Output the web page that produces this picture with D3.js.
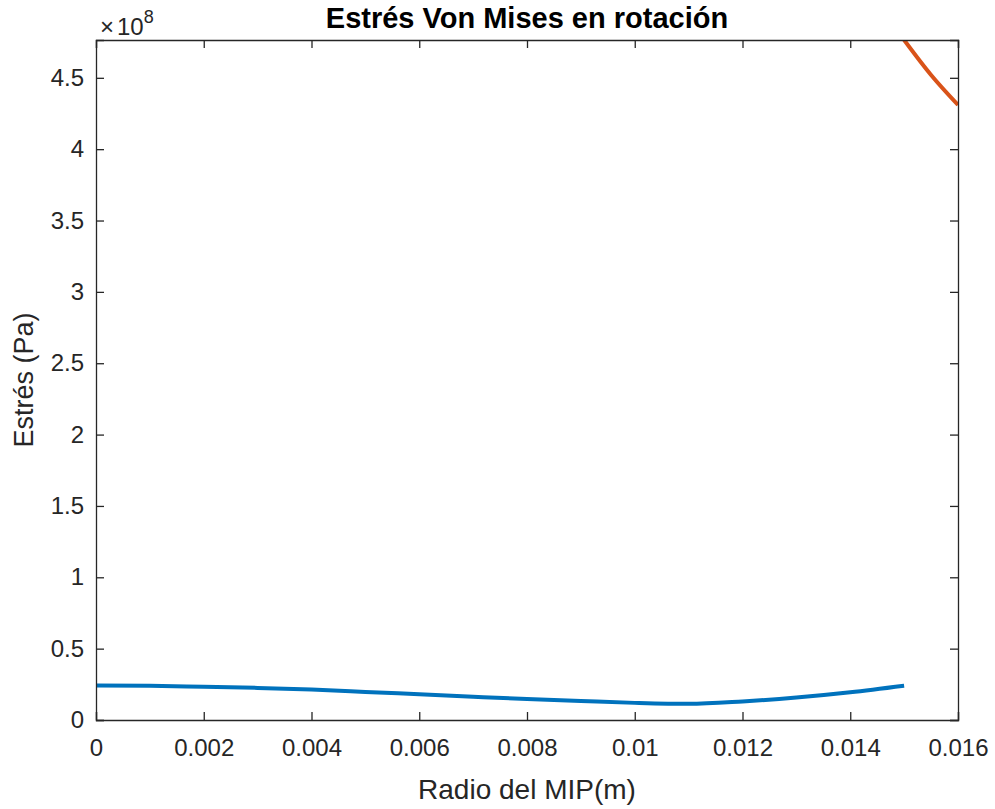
<!DOCTYPE html>
<html>
<head>
<meta charset="utf-8">
<script src="https://cdn.jsdelivr.net/npm/d3@7.9.0/dist/d3.min.js"></script>
<style>
  body { margin: 0; background: #fff; }
  text { font-family: "Liberation Sans", Arial, Helvetica, sans-serif; fill: #262626; }
</style>
</head>
<body>
<script>
// radius (m) and stress (x1e8 Pa)
const radioA = [0, 0.001, 0.002, 0.003, 0.004, 0.005, 0.006, 0.007, 0.008, 0.009, 0.010, 0.011, 0.012, 0.013, 0.014, 0.015];
const estresA = [0.242, 0.240, 0.233, 0.225, 0.213, 0.197, 0.180, 0.163, 0.147, 0.133, 0.120, 0.113, 0.130, 0.157, 0.194, 0.240];
const radioB = [0.015, 0.0155, 0.016];
const estresB = [4.765, 4.52, 4.31];
const xTicks = [0, 0.002, 0.004, 0.006, 0.008, 0.010, 0.012, 0.014, 0.016];
const xTickLabels = ["0", "0.002", "0.004", "0.006", "0.008", "0.01", "0.012", "0.014", "0.016"];
const yTicks = [0, 0.5, 1, 1.5, 2, 2.5, 3, 3.5, 4, 4.5];
const yTickLabels = ["0", "0.5", "1", "1.5", "2", "2.5", "3", "3.5", "4", "4.5"];

const W = 995, H = 809;
const margin = { top: 40, right: 37, bottom: 89, left: 96 };
const width = W - margin.left - margin.right;
const height = H - margin.top - margin.bottom;

const svg = d3.select("body").append("svg")
    .attr("width", W)
    .attr("height", H);

const g = svg.append("g")
    .attr("transform", `translate(${margin.left},${margin.top})`);

const x = d3.scaleLinear().domain([0, 0.016]).range([0, width]);
const y = d3.scaleLinear().domain([0, 4.765]).range([height, 0]);

g.append("defs").append("clipPath").attr("id", "clip")
    .append("rect").attr("width", width).attr("height", height);

// lines
const line = d3.line()
    .x(d => x(d[0]))
    .y(d => y(d[1]))
    .curve(d3.curveMonotoneX);

g.append("path")
    .datum(radioA.map((r, i) => [r, estresA[i]]))
    .attr("clip-path", "url(#clip)")
    .attr("fill", "none")
    .attr("stroke", "#0072BD")
    .attr("stroke-width", 4)
    .attr("d", line);

g.append("path")
    .datum(radioB.map((r, i) => [r, estresB[i]]))
    .attr("clip-path", "url(#clip)")
    .attr("fill", "none")
    .attr("stroke", "#D95319")
    .attr("stroke-width", 4)
    .attr("d", line);

// axes with inward ticks on all four sides
const tk = 8;
const fs = 24;
const xAxis = g.append("g")
    .attr("transform", `translate(0,${height})`)
    .call(d3.axisBottom(x).tickValues(xTicks).tickSize(-tk).tickPadding(19)
        .tickFormat((d, i) => xTickLabels[i]));
const xTop = g.append("g")
    .call(d3.axisTop(x).tickValues(xTicks).tickSize(-tk).tickFormat(""));
const yAxis = g.append("g")
    .call(d3.axisLeft(y).tickValues(yTicks).tickSize(-tk).tickPadding(12)
        .tickFormat((d, i) => yTickLabels[i]));
const yRight = g.append("g")
    .attr("transform", `translate(${width},0)`)
    .call(d3.axisRight(y).tickValues(yTicks).tickSize(-tk).tickFormat(""));

[xAxis, xTop, yAxis, yRight].forEach(a => {
    a.select(".domain").attr("stroke", "#262626").attr("stroke-width", 1.3);
    a.selectAll(".tick line").attr("stroke", "#262626").attr("stroke-width", 1.3);
    a.selectAll("text").attr("font-size", fs).attr("fill", "#262626")
        .style("font-family", "'Liberation Sans', Arial, sans-serif");
});

// exponent label
const expo = svg.append("text")
    .attr("x", margin.left + 4)
    .attr("y", margin.top - 5)
    .attr("font-size", 24);
expo.append("tspan").text("\u00d7");
expo.append("tspan").attr("dx", 3).text("10");
expo.append("tspan").attr("dy", -12).attr("font-size", 18).text("8");

// title
svg.append("text")
    .attr("x", margin.left + width / 2)
    .attr("y", 28)
    .attr("text-anchor", "middle")
    .attr("font-size", 29)
    .attr("font-weight", "bold")
    .style("fill", "#000")
    .text("Estrés Von Mises en rotación");

// axis labels
svg.append("text")
    .attr("x", margin.left + width / 2)
    .attr("y", 799)
    .attr("text-anchor", "middle")
    .attr("font-size", 28)
    .text("Radio del MIP(m)");

svg.append("text")
    .attr("transform", `translate(33,${margin.top + height / 2}) rotate(-90)`)
    .attr("text-anchor", "middle")
    .attr("font-size", 27)
    .text("Estrés (Pa)");
</script>
</body>
</html>
